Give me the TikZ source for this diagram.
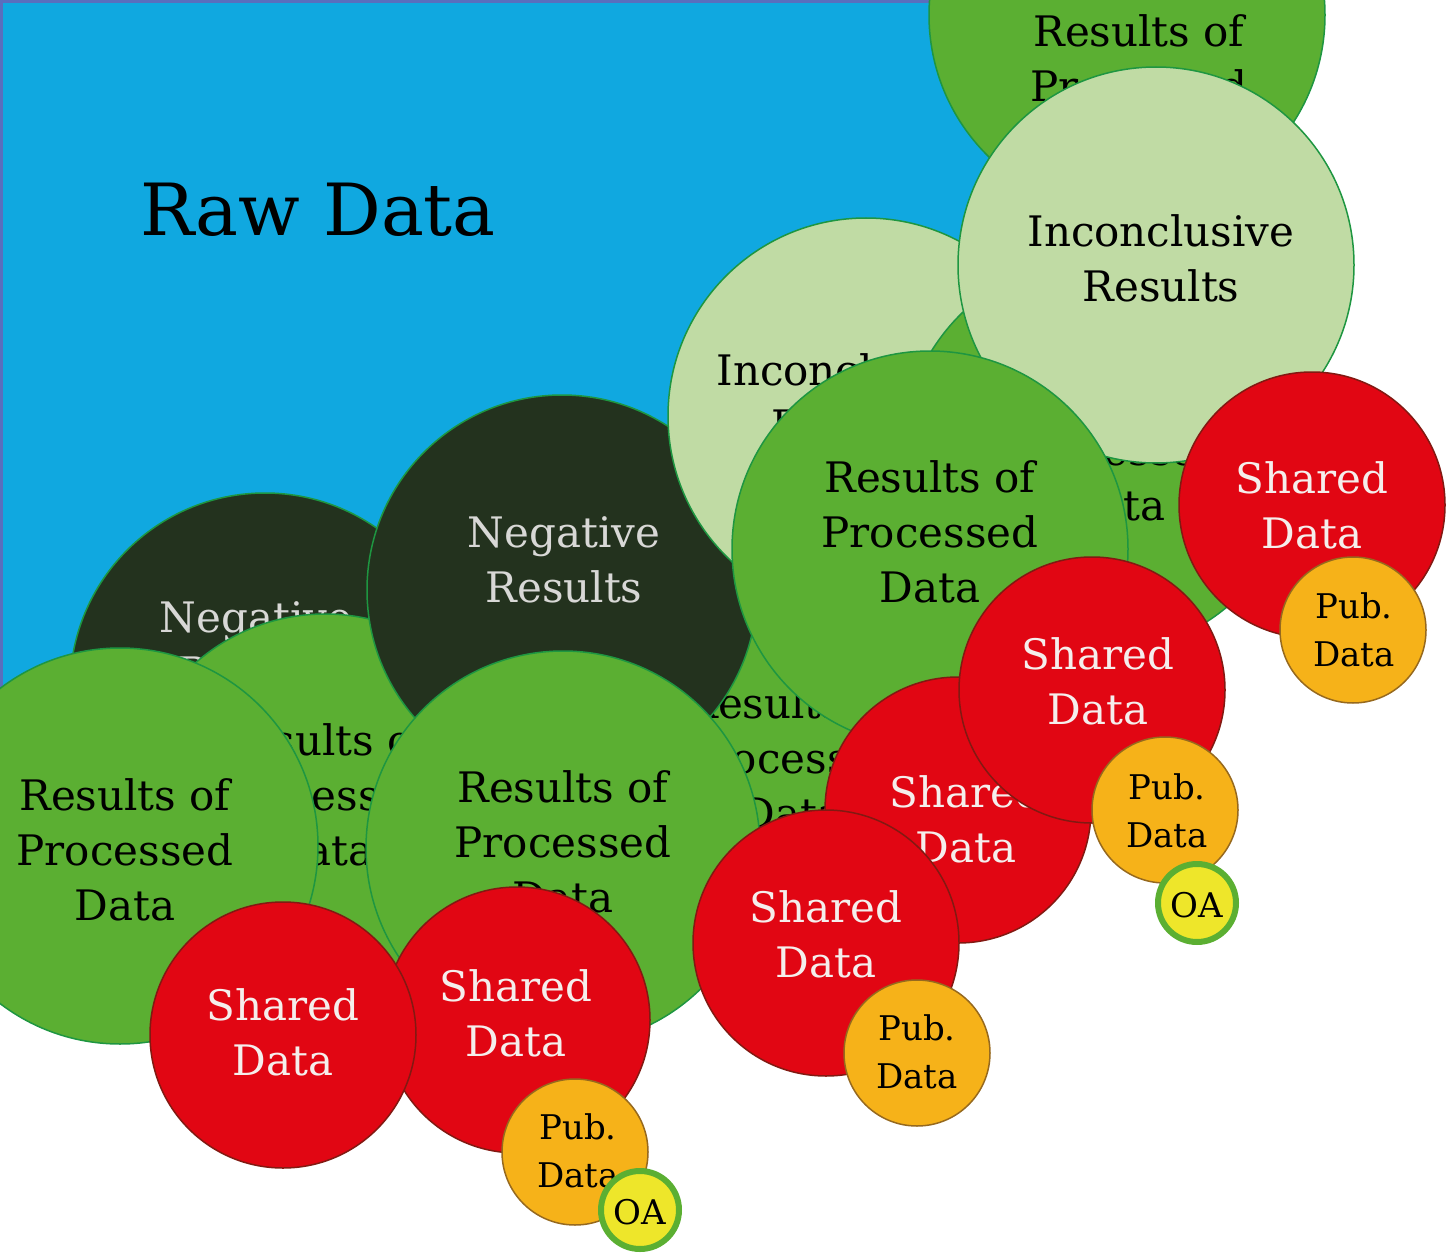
\documentclass[tikz,border=0pt]{standalone}
\usepackage{fontspec}
\setmainfont{DejaVu Serif}
\definecolor{rawblue}{RGB}{16,168,224}
\definecolor{rawedge}{RGB}{90,110,190}
\definecolor{midgreen}{RGB}{91,175,50}
\definecolor{lightgreen}{RGB}{192,219,164}
\definecolor{darkgreen}{RGB}{35,50,30}
\definecolor{edgegreen}{RGB}{30,150,65}
\definecolor{redfill}{RGB}{225,6,19}
\definecolor{rededge}{RGB}{130,25,18}
\definecolor{orangefill}{RGB}{246,178,25}
\definecolor{orangeedge}{RGB}{150,105,30}
\definecolor{yellowfill}{RGB}{238,230,42}
\definecolor{lighttext}{RGB}{216,216,214}
\definecolor{whitetext}{RGB}{245,238,236}
\tikzset{
  circ/.style={circle, inner sep=0pt, outer sep=0pt, line width=1.5pt},
  gr/.style={circ, minimum size=396pt, fill=midgreen, draw=edgegreen},
  lg/.style={circ, minimum size=396pt, fill=lightgreen, draw=edgegreen},
  dk/.style={circ, minimum size=390pt, fill=darkgreen, draw=edgegreen},
  rd/.style={circ, minimum size=266pt, fill=redfill, draw=rededge},
  pub/.style={circ, minimum size=146pt, fill=orangefill, draw=orangeedge},
  oa/.style={circ, minimum size=78pt, fill=yellowfill, draw=midgreen, line width=6pt},
  lbl/.style={align=center, inner sep=0pt, font=\fontsize{42}{55}\selectfont},
  sml/.style={align=center, inner sep=0pt, font=\fontsize{34}{48}\selectfont},
  dktxt/.style={lbl, text=black},
  lttxt/.style={lbl, text=lighttext},
  rdtxt/.style={lbl, text=whitetext},
}
\begin{document}
\begin{tikzpicture}[x=1pt, y=-1pt]
\useasboundingbox (0,0) rectangle (1446,1260);
\clip (0,0) rectangle (1446,1260);
% raw data area
\node[rectangle, anchor=north west, minimum width=1060pt, minimum height=760pt,
      inner sep=0pt, fill=rawblue, draw=rawedge, line width=3pt] (raw) at (0,0) {};
\node[font=\fontsize{72}{80}\selectfont, inner sep=0pt] (rawt) at (318,210) {Raw Data};
% top right processed
\node[gr] (g1) at (1127,15) {};
\node[dktxt] (g1t) at (1139,86) {Results of\\Processed\\Data};
% negative left
\node[dk] (n1) at (265,688) {};
\node[lttxt] (n1t) at (256,645) {Negative\\Results};
% processed behind left
\node[gr, minimum size=392pt] (gl2) at (325,810) {};
\node[dktxt] (gl2t) at (323,795) {Results of\\Processed\\Data};
% processed behind middle
\node[gr] (g4) at (784,770) {};
\node[dktxt] (g4t) at (792,758) {Results of\\Processed\\Data};
% negative centre
\node[dk] (n2) at (562,590) {};
\node[lttxt] (n2t) at (564,560) {Negative\\Results};
% inconclusive middle
\node[lg] (i2) at (866,416) {};
\node[dktxt] (i2t) at (850,397) {Inconclusive\\Results};
% processed behind right
\node[gr] (g2) at (1100,455) {};
\node[dktxt] (g2t) at (1115,450) {Results of\\Processed\\Data};
% inconclusive top right
\node[lg] (i1) at (1156,265) {};
\node[dktxt] (i1t) at (1161,258) {Inconclusive\\Results};
% processed middle
\node[gr] (g3) at (930,549) {};
\node[dktxt] (g3t) at (930,532) {Results of\\Processed\\Data};
% processed centre
\node[gr, minimum size=394pt] (gc) at (563,848) {};
\node[dktxt] (gct) at (563,842) {Results of\\Processed\\Data};
% processed left
\node[gr] (gl1) at (120,846) {};
\node[dktxt] (gl1t) at (125,850) {Results of\\Processed\\Data};
% shared data bottom left
\node[rd] (r5) at (517,1020) {};
\node[rdtxt] (r5t) at (516,1013) {Shared\\Data};
\node[rd] (rl) at (283,1035) {};
\node[rdtxt] (rlt) at (283,1032) {Shared\\Data};
\node[pub] (o5) at (575,1152) {};
\node[sml] (o5t) at (578,1151) {Pub.\\Data};
\node[oa] (oa2) at (640,1210) {};
\node[sml] (oa2t) at (640,1212) {OA};
% shared data right group
\node[rd] (r2) at (958,810) {};
\node[rdtxt] (r2t) at (966,819) {Shared\\Data};
\node[rd] (r3) at (1092,690) {};
\node[rdtxt] (r3t) at (1098,681) {Shared\\Data};
\node[pub] (o3) at (1165,810) {};
\node[sml] (o3t) at (1167,811) {Pub.\\Data};
\node[oa] (oa1) at (1197,903) {};
\node[sml] (oa1t) at (1197,905) {OA};
\node[rd] (r4) at (826,943) {};
\node[rdtxt] (r4t) at (826,934) {Shared\\Data};
\node[pub] (o4) at (917,1053) {};
\node[sml] (o4t) at (917,1052) {Pub.\\Data};
\node[rd] (r1) at (1312,505) {};
\node[rdtxt] (r1t) at (1312,505) {Shared\\Data};
\node[pub] (o1) at (1353,630) {};
\node[sml] (o1t) at (1354,630) {Pub.\\Data};
\end{tikzpicture}
\end{document}
